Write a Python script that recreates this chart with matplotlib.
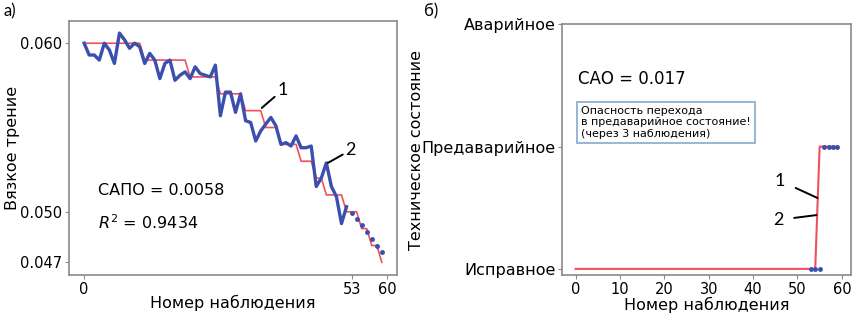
import matplotlib

matplotlib.use("Agg")
import matplotlib.pyplot as plt
import numpy as np

# --- данные ---
# а) вязкое трение: наблюдения 0..52 (сплошная), 53..59 (точки), модель 0..59
visc_obs = [0.0600, 0.0593, 0.0593, 0.0590, 0.0600, 0.0596, 0.0588, 0.0606, 0.0602, 0.0597,
            0.0600, 0.0598, 0.0588, 0.0594, 0.0590, 0.0579, 0.0588, 0.0590, 0.0578, 0.0581,
            0.0583, 0.0579, 0.0586, 0.0582, 0.0581, 0.0580, 0.0587, 0.0557, 0.0571, 0.0571,
            0.0559, 0.0570, 0.0554, 0.0553, 0.0542, 0.0548, 0.0552, 0.0556, 0.0551, 0.0540,
            0.0541, 0.0539, 0.0545, 0.0538, 0.0538, 0.0539, 0.0515, 0.0520, 0.0529, 0.0515,
            0.0509, 0.0493, 0.0503]
visc_future = [0.0499, 0.0496, 0.0492, 0.0488, 0.0484, 0.0480, 0.0476]
visc_model = [0.060] * 12 + [0.059] * 9 + [0.058] * 6 + [0.057] * 5 + [0.056] * 4 \
    + [0.055] * 3 + [0.054] * 4 + [0.053] * 3 + [0.052] * 2 + [0.051] * 4 \
    + [0.050] * 3 + [0.049] * 2 + [0.048] * 2 + [0.047]

# б) техническое состояние: 0 - исправное, 1 - предаварийное, 2 - аварийное
state_model = [0] * 55 + [1] * 5
state_future_x = [53, 54, 55, 56, 57, 58, 59]
state_future = [0, 0, 0, 1, 1, 1, 1]
state_labels = ["Исправное", "Предаварийное", "Аварийное"]

BLUE = "#3b4fae"
RED = "#f0505c"
GREY = "#8a8a8a"

fig = plt.figure(figsize=(8.53, 3.14), dpi=100)
ax1 = fig.add_axes([0.0809, 0.1242, 0.3845, 0.809])
ax2 = fig.add_axes([0.6592, 0.1242, 0.3381, 0.7984])

# ---- а) ----
x_obs = np.arange(len(visc_obs))
x_fut = np.arange(len(visc_obs), len(visc_obs) + len(visc_future))
x_mod = np.arange(len(visc_model))
ax1.plot(x_mod, visc_model, color=RED, lw=1.2, zorder=2)
ax1.plot(x_obs, visc_obs, color=BLUE, lw=2.4, zorder=3)
ax1.plot(x_fut, visc_future, "o", color=BLUE, ms=2.5, zorder=3)
ax1.set_xlim(-3, 62)
ax1.set_ylim(0.04625, 0.06132)
ax1.set_xticks([0, 53, 60])
ax1.set_yticks([0.047, 0.050, 0.060])
ax1.set_yticklabels(["0.047", "0.050", "0.060"])
ax1.set_xlabel("Номер наблюдения", fontsize=11.5)
ax1.xaxis.set_label_coords(0.5, -0.08)
ax1.set_ylabel("Вязкое трение", fontsize=11.5, labelpad=0)
ax1.text(2.8, 0.05129, "САПО = 0.0058", fontsize=11.5, va="center")
ax1.text(2.8, 0.04933, "$R^2$ = 0.9434", fontsize=11.5, va="center")
ax1.annotate("1", xy=(35.2, 0.05616), xytext=(38.3, 0.05723), fontsize=13,
             family="Lato", va="center",
             arrowprops=dict(arrowstyle="-", color="black", lw=1.4, shrinkA=0, shrinkB=0))
ax1.annotate("2", xy=(48.3, 0.0529), xytext=(51.8, 0.05366), fontsize=13,
             family="Lato", va="center",
             arrowprops=dict(arrowstyle="-", color="black", lw=1.4, shrinkA=0, shrinkB=0))

# ---- б) ----
ax2.plot(np.arange(len(state_model)), state_model, color=RED, lw=1.5, zorder=2)
ax2.plot(state_future_x, state_future, "o", color=BLUE, ms=2.5, zorder=3)
ax2.set_xlim(-3, 62)
ax2.set_ylim(-0.05, 2.0)
ax2.set_xticks(np.arange(0, 61, 10))
ax2.set_yticks([0, 1, 2])
ax2.set_yticklabels(state_labels)
ax2.set_xlabel("Номер наблюдения", fontsize=11.5, labelpad=0)
ax2.set_ylabel("Техническое состояние", fontsize=11.5, labelpad=-2)
ax2.text(0.45, 1.555, "САО = 0.017", fontsize=12, va="center")
ax2.text(1.2, 1.2, "Опасность перехода\nв предаварийное состояние!\n(через 3 наблюдения)",
         fontsize=8, va="center", ha="left", linespacing=1.2,
         bbox=dict(boxstyle="square,pad=0.35", fc="white", ec="#8fb1cf", lw=1.3))
ax2.annotate("1", xy=(54.5, 0.58), xytext=(46.1, 0.72), fontsize=13,
             family="Lato", ha="center", va="center",
             arrowprops=dict(arrowstyle="-", color="black", lw=1.4, shrinkA=6, shrinkB=0))
ax2.annotate("2", xy=(54.3, 0.44), xytext=(45.6, 0.40), fontsize=13,
             family="Lato", ha="center", va="center",
             arrowprops=dict(arrowstyle="-", color="black", lw=1.4, shrinkA=6, shrinkB=0))

for ax in (ax1, ax2):
    for s in ax.spines.values():
        s.set_color(GREY)
        s.set_linewidth(1.2)
    ax.tick_params(colors=GREY, labelcolor="black", length=3, labelsize=10.5, pad=2)
ax2.tick_params(axis="y", labelsize=11.5)

fig.text(0.004, 0.965, "а)", fontsize=12, family="Lato", va="center")
fig.text(0.497, 0.965, "б)", fontsize=12, family="Lato", va="center")

fig.savefig("out.png", dpi=100)
